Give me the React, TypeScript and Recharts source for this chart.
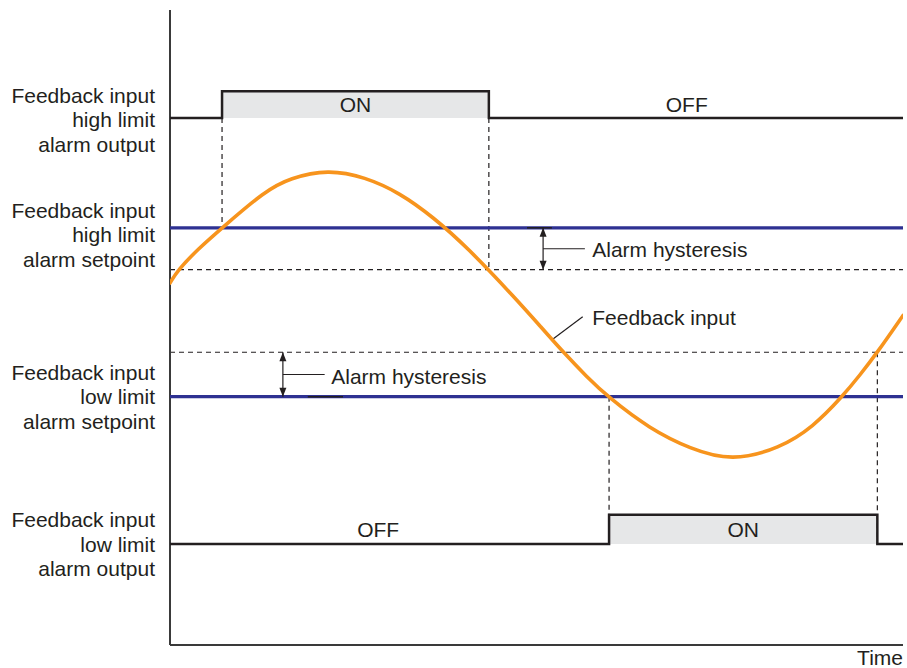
import React from 'react';
import {
  ComposedChart,
  Line,
  XAxis,
  YAxis,
  ReferenceLine,
  ReferenceArea,
  ReferenceDot,
} from 'recharts';

const FONT = '"Liberation Sans", Arial, Helvetica, sans-serif';
const INK = '#231f20';
const BLUE = '#2e3192';
const ORANGE = '#f7941d';
const GRAY = '#e6e7e8';
const FS = 21;

// Time axis: 0..100, value axis: 0..100
const curveTime = [0, 1.09, 3.82, 7.09, 12.96, 16.37, 21.56, 26.6, 31.38, 35.88, 40.52, 47.34, 50.48, 53.62, 56.89, 59.75, 65.48, 70.94, 76.67, 83.22, 87.72, 91.68, 94.13, 96.45, 100];
const curveValue = [57.01, 59.06, 62.36, 65.67, 71.5, 73.54, 74.9, 73.7, 71.18, 67.4, 62.68, 54.33, 50.24, 46.14, 42.2, 39.06, 34.02, 30.9, 28.9, 31.0, 34.33, 39.06, 42.52, 45.98, 51.9];

const hiSetpoint = 65.7;
const hiHysteresis = 59.1;
const loHysteresis = 46.1;
const loSetpoint = 39.1;

const hiOutputLevels = [83.0, 87.2]; // off, on
const loOutputLevels = [15.9, 20.5]; // off, on
const hiSwitchTimes = [7.1, 43.5]; // on, off
const loSwitchTimes = [59.9, 96.5]; // on, off
const timeEnd = 100;

const stateTexts = ['ON', 'OFF', 'OFF', 'ON'];
const offTextTimes = [70.5, 28.4];
const leftLabels = [
  ['Feedback input', 'high limit', 'alarm output'],
  ['Feedback input', 'high limit', 'alarm setpoint'],
  ['Feedback input', 'low limit', 'alarm setpoint'],
  ['Feedback input', 'low limit', 'alarm output'],
];
const leftLabelAnchors = [82.7, 64.6, 39.1, 15.9];

// annotation positions (time units)
const hiArrowTime = 50.9;
const hiTickTimes = [48.7, 52.1];
const hiLeaderEnd = 56.6;
const loArrowTime = 15.4;
const loTickTimes = [18.8, 23.6];
const loLeaderEnd = 21.1;
const annotTextHi = 57.6;
const annotTextLo = 22.0;
const fbLeaderTimes = [52.25, 56.3];
const fbLeaderValues = [48.2, 51.7];
const fbText = { t: 57.6, v: 51.6 };

const curveData = curveTime.map((t, i) => ({ t, v: curveValue[i] }));
const fbLeader = fbLeaderTimes.map((t, i) => ({ t, v: fbLeaderValues[i] }));

const stepSeries = (levels: number[], times: number[]) => [
  { t: 0, v: levels[0] },
  { t: times[0], v: levels[0] },
  { t: times[0], v: levels[1] },
  { t: times[1], v: levels[1] },
  { t: times[1], v: levels[0] },
  { t: timeEnd, v: levels[0] },
];

const flat = (v: number, t0 = 0, t1 = timeEnd) => [
  { t: t0, v },
  { t: t1, v },
];

const textShape = (
  value: string,
  dx: number,
  dy: number,
  anchor: 'start' | 'middle' | 'end'
) => (props: any) => (
  <text
    x={props.cx + dx}
    y={props.cy + dy}
    textAnchor={anchor}
    dominantBaseline="central"
    fontFamily={FONT}
    fontSize={FS}
    fill={INK}
  >
    {value}
  </text>
);

const multiTextShape = (lines: string[]) => (props: any) => (
  <g>
    {lines.map((l, i) => (
      <text
        key={i}
        x={props.cx - 15}
        y={props.cy + (i - 1) * 24.7}
        textAnchor="end"
        dominantBaseline="central"
        fontFamily={FONT}
        fontSize={FS}
        fill={INK}
      >
        {l}
      </text>
    ))}
  </g>
);

const arrowHead = (dir: 'up' | 'down') => (props: any) => {
  const { cx, cy } = props;
  const w = 3.5;
  const h = 9;
  const d =
    dir === 'up'
      ? `M${cx},${cy} L${cx - w},${cy + h} L${cx + w},${cy + h} Z`
      : `M${cx},${cy} L${cx - w},${cy - h} L${cx + w},${cy - h} Z`;
  return <path d={d} fill={INK} />;
};

const lineProps = {
  dataKey: 'v',
  type: 'linear' as const,
  dot: false,
  activeDot: false,
  isAnimationActive: false,
  legendType: 'none' as const,
};

const dash = { stroke: INK, strokeWidth: 1.2, strokeDasharray: '5 4', ifOverflow: 'visible' as const };

export default function App() {
  const hiMid = (hiOutputLevels[0] + hiOutputLevels[1]) / 2;
  const loMid = (loOutputLevels[0] + loOutputLevels[1]) / 2;
  const hiHystMid = (hiSetpoint + hiHysteresis) / 2;
  const loHystMid = (loSetpoint + loHysteresis) / 2;
  return (
    <div style={{ position: 'absolute', left: 0, top: 0, width: 907, height: 668, background: '#fff' }}>
      <ComposedChart
        width={907}
        height={668}
        margin={{ top: 10, right: 4, bottom: 23, left: 170 }}
      >
        <XAxis type="number" dataKey="t" domain={[0, timeEnd]} hide allowDataOverflow />
        <YAxis type="number" dataKey="v" domain={[0, 100]} hide allowDataOverflow />

        <ReferenceArea
          x1={hiSwitchTimes[0]}
          x2={hiSwitchTimes[1]}
          y1={hiOutputLevels[0]}
          y2={hiOutputLevels[1]}
          fill={GRAY}
          fillOpacity={1}
          stroke="none"
        />
        <ReferenceArea
          x1={loSwitchTimes[0]}
          x2={loSwitchTimes[1]}
          y1={loOutputLevels[0]}
          y2={loOutputLevels[1]}
          fill={GRAY}
          fillOpacity={1}
          stroke="none"
        />

        {/* dashed hysteresis levels */}
        <ReferenceLine y={hiHysteresis} {...dash} />
        <ReferenceLine y={loHysteresis} {...dash} />
        {/* dashed switching verticals */}
        <ReferenceLine
          segment={[
            { x: hiSwitchTimes[0], y: hiOutputLevels[0] },
            { x: hiSwitchTimes[0], y: hiSetpoint },
          ]}
          {...dash}
        />
        <ReferenceLine
          segment={[
            { x: hiSwitchTimes[1], y: hiOutputLevels[0] },
            { x: hiSwitchTimes[1], y: hiHysteresis },
          ]}
          {...dash}
        />
        <ReferenceLine
          segment={[
            { x: loSwitchTimes[0], y: loSetpoint },
            { x: loSwitchTimes[0], y: loOutputLevels[0] },
          ]}
          {...dash}
        />
        <ReferenceLine
          segment={[
            { x: loSwitchTimes[1], y: loHysteresis },
            { x: loSwitchTimes[1], y: loOutputLevels[0] },
          ]}
          {...dash}
        />

        {/* axes */}
        <ReferenceLine
          segment={[
            { x: 0, y: 0 },
            { x: 0, y: 100 },
          ]}
          stroke="#3a3a3a"
          strokeWidth={2}
          ifOverflow="visible"
        />
        <ReferenceLine
          segment={[
            { x: 0, y: 0 },
            { x: timeEnd, y: 0 },
          ]}
          stroke="#3a3a3a"
          strokeWidth={2}
          ifOverflow="visible"
        />

        {/* setpoints */}
        <Line {...lineProps} data={flat(hiSetpoint)} stroke={BLUE} strokeWidth={3.2} />
        <Line {...lineProps} data={flat(loSetpoint)} stroke={BLUE} strokeWidth={3.2} />

        {/* outputs */}
        <Line {...lineProps} data={stepSeries(hiOutputLevels, hiSwitchTimes)} stroke={INK} strokeWidth={2.5} strokeLinejoin="miter" />
        <Line {...lineProps} data={stepSeries(loOutputLevels, loSwitchTimes)} stroke={INK} strokeWidth={2.5} strokeLinejoin="miter" />

        {/* hysteresis annotations */}
        <Line {...lineProps} data={flat(hiSetpoint, hiTickTimes[0], hiTickTimes[1])} stroke={INK} strokeWidth={1.5} />
        <Line
          {...lineProps}
          data={[
            { t: hiArrowTime, v: hiSetpoint },
            { t: hiArrowTime, v: hiHysteresis },
          ]}
          stroke={INK}
          strokeWidth={1.2}
        />
        <Line {...lineProps} data={flat(hiHystMid, hiArrowTime, hiLeaderEnd)} stroke={INK} strokeWidth={1.2} />

        <Line {...lineProps} data={flat(loSetpoint, loTickTimes[0], loTickTimes[1])} stroke={INK} strokeWidth={1.5} />
        <Line
          {...lineProps}
          data={[
            { t: loArrowTime, v: loHysteresis },
            { t: loArrowTime, v: loSetpoint },
          ]}
          stroke={INK}
          strokeWidth={1.2}
        />
        <Line {...lineProps} data={flat(loHystMid, loArrowTime, loLeaderEnd)} stroke={INK} strokeWidth={1.2} />

        <Line {...lineProps} data={fbLeader} stroke={INK} strokeWidth={1.2} />

        {/* feedback curve */}
        <Line
          {...lineProps}
          type="basis"
          data={curveData}
          stroke={ORANGE}
          strokeWidth={3.6}
          strokeLinecap="round"
        />

        {/* arrow heads */}
        <ReferenceDot x={hiArrowTime} y={hiSetpoint} ifOverflow="visible" shape={arrowHead('up')} />
        <ReferenceDot x={hiArrowTime} y={hiHysteresis} ifOverflow="visible" shape={arrowHead('down')} />
        <ReferenceDot x={loArrowTime} y={loHysteresis} ifOverflow="visible" shape={arrowHead('up')} />
        <ReferenceDot x={loArrowTime} y={loSetpoint} ifOverflow="visible" shape={arrowHead('down')} />

        {/* state texts */}
        <ReferenceDot x={(hiSwitchTimes[0] + hiSwitchTimes[1]) / 2} y={hiMid} ifOverflow="visible" shape={textShape(stateTexts[0], 0, 0, 'middle')} />
        <ReferenceDot x={offTextTimes[0]} y={hiMid} ifOverflow="visible" shape={textShape(stateTexts[1], 0, 0, 'middle')} />
        <ReferenceDot x={offTextTimes[1]} y={loMid} ifOverflow="visible" shape={textShape(stateTexts[2], 0, 0, 'middle')} />
        <ReferenceDot x={(loSwitchTimes[0] + loSwitchTimes[1]) / 2} y={loMid} ifOverflow="visible" shape={textShape(stateTexts[3], 0, 0, 'middle')} />

        {/* annotation texts */}
        <ReferenceDot x={annotTextHi} y={hiHystMid} ifOverflow="visible" shape={textShape('Alarm hysteresis', 0, 1, 'start')} />
        <ReferenceDot x={annotTextLo} y={loHystMid} ifOverflow="visible" shape={textShape('Alarm hysteresis', 0, 2, 'start')} />
        <ReferenceDot x={fbText.t} y={fbText.v} ifOverflow="visible" shape={textShape('Feedback input', 0, 0, 'start')} />

        {/* left labels */}
        {leftLabels.map((lines, i) => (
          <ReferenceDot key={i} x={0} y={leftLabelAnchors[i]} ifOverflow="visible" shape={multiTextShape(lines)} />
        ))}

        {/* time label */}
        <ReferenceDot x={timeEnd} y={0} ifOverflow="visible" shape={textShape('Time', 0, 12, 'end')} />
      </ComposedChart>
    </div>
  );
}
